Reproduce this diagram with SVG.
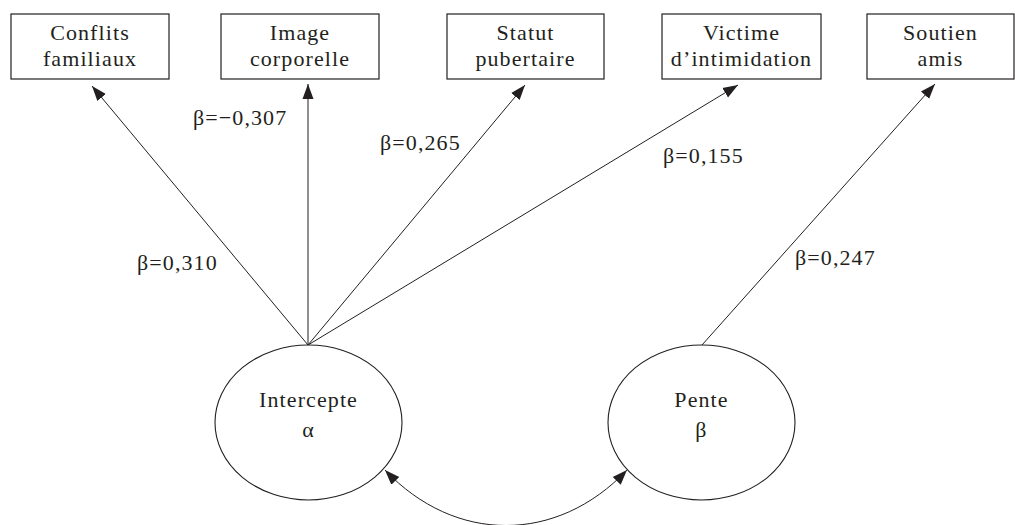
<svg xmlns="http://www.w3.org/2000/svg" width="1015" height="525" viewBox="0 0 1015 525">
<style>
.box{fill:#fff;stroke:#231f20;stroke-width:1.2}
.ell{fill:#fff;stroke:#231f20;stroke-width:1.1}
.t{font-family:"Liberation Serif","DejaVu Serif",serif;font-size:22px;fill:#231f20;text-anchor:middle;letter-spacing:1.1px}
.lbl{font-family:"Liberation Serif","DejaVu Serif",serif;font-size:22px;fill:#231f20;letter-spacing:1.1px}
.c{fill:none;stroke:#231f20;stroke-width:1}
</style>
<defs>
<marker id="ah" markerUnits="userSpaceOnUse" markerWidth="16" markerHeight="14" viewBox="0 0 16 14" refX="15" refY="7" orient="auto-start-reverse">
<path d="M0,1.5 L15,7 L0,12.5 Z" fill="#231f20"/>
</marker>
</defs>
<rect width="1015" height="525" fill="#fff"/>
<g id="conflits"><rect class="box" x="11" y="14" width="158" height="65"/><text class="t" x="90" y="40">Conflits</text><text class="t" x="90" y="66">familiaux</text></g>
<g id="image"><rect class="box" x="221" y="14" width="158" height="65"/><text class="t" x="300" y="40">Image</text><text class="t" x="300" y="66">corporelle</text></g>
<g id="statut"><rect class="box" x="447" y="14" width="157" height="65"/><text class="t" x="525.5" y="40">Statut</text><text class="t" x="525.5" y="66">pubertaire</text></g>
<g id="victime"><rect class="box" x="662" y="14" width="159" height="65"/><text class="t" x="741.5" y="40">Victime</text><text class="t" x="741.5" y="66">d’intimidation</text></g>
<g id="soutien"><rect class="box" x="867" y="14" width="147" height="65"/><text class="t" x="940.5" y="40">Soutien</text><text class="t" x="940.5" y="66">amis</text></g>
<g id="intercept"><ellipse class="ell" cx="308.5" cy="422.5" rx="93.5" ry="77.5"/><text class="t" x="308.5" y="407">Intercepte</text><text class="t" x="308.5" y="437">α</text></g>
<g id="pente"><ellipse class="ell" cx="701.5" cy="422.5" rx="93.5" ry="77.5"/><text class="t" x="701.5" y="407">Pente</text><text class="t" x="701.5" y="437">β</text></g>
<g id="connectors">
<line class="c" x1="308" y1="345" x2="92" y2="86" marker-end="url(#ah)"/>
<line class="c" x1="308" y1="345" x2="308" y2="84" marker-end="url(#ah)"/>
<line class="c" x1="308" y1="345" x2="525" y2="85" marker-end="url(#ah)"/>
<line class="c" x1="308" y1="345" x2="738" y2="85" marker-end="url(#ah)"/>
<line class="c" x1="702" y1="345" x2="935" y2="84" marker-end="url(#ah)"/>
<path class="c" d="M385,470 C455,544 557,544 627,470" marker-start="url(#ah)" marker-end="url(#ah)"/>
<text class="lbl" x="137" y="270">β=0,310</text>
<text class="lbl" x="193" y="125">β=−0,307</text>
<text class="lbl" x="380" y="150">β=0,265</text>
<text class="lbl" x="663" y="163">β=0,155</text>
<text class="lbl" x="795" y="265">β=0,247</text>
</g>
</svg>
